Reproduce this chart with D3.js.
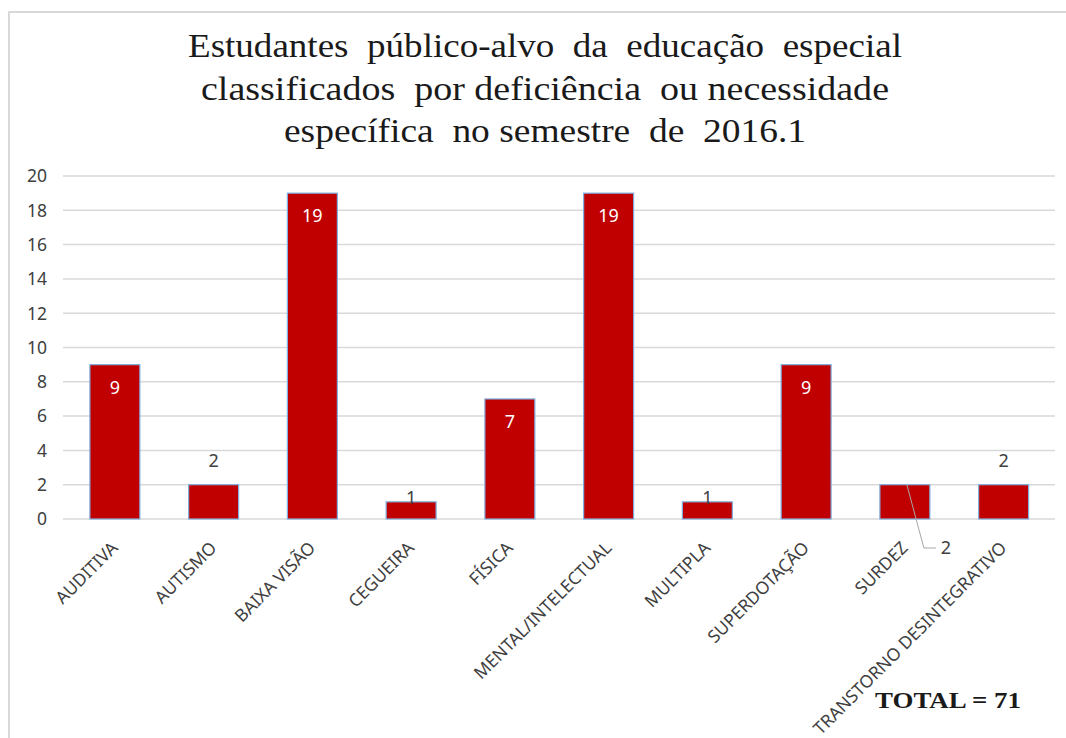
<!DOCTYPE html>
<html>
<head>
<meta charset="utf-8">
<script src="https://cdn.jsdelivr.net/npm/d3@7"></script>
<style>
  html, body { margin: 0; padding: 0; background: #fff; }
  svg { display: block; }
</style>
</head>
<body>
<svg id="chart"></svg>
<script>
// chart - students of special education by disability type, 2016.1

const CATEGORIES = ["AUDITIVA","AUTISMO","BAIXA VISÃO","CEGUEIRA","FÍSICA",
                    "MENTAL/INTELECTUAL","MULTIPLA","SUPERDOTAÇÃO","SURDEZ","TRANSTORNO DESINTEGRATIVO"];
const VALUES     = [9, 2, 19, 1, 7, 19, 1, 9, 2, 2];
// where Excel put each data label
const LABEL_POS  = ["inside","above","inside","top","inside","inside","top","inside","callout","above"];
const Y_TICKS    = [0, 2, 4, 6, 8, 10, 12, 14, 16, 18, 20];
const TITLE_LINES = [
  "Estudantes  público-alvo  da  educação  especial",
  "classificados  por deficiência  ou necessidade",
  "específica  no semestre  de  2016.1"
];
const TOTAL_TEXT = "TOTAL = 71";

const W = 1066, H = 738;
const SANS  = "'Noto Sans', 'Open Sans', sans-serif";
const SERIF = "'Liberation Serif', 'DejaVu Serif', serif";

const svg = d3.select("#chart").attr("width", W).attr("height", H);

// ── Frame ─────────────────────────────────────────────────────
svg.append("rect")
  .attr("x", 9).attr("y", 12).attr("width", W + 10).attr("height", H + 10)
  .attr("fill", "none").attr("stroke", "#d9d9d9").attr("stroke-width", 2);

// ── Title ─────────────────────────────────────────────────────
// the source font runs wider than Liberation Serif, so stretch each line to its width
const TITLE_W = [714, 688, 522];
TITLE_LINES.forEach((t, i) => {
  svg.append("text")
    .attr("x", 545).attr("y", 57 + i * 42.5)
    .attr("text-anchor", "middle")
    .attr("font-family", SERIF).attr("font-size", "33px")
    .attr("fill", "#1a1a1a")
    .attr("textLength", TITLE_W[i]).attr("lengthAdjust", "spacingAndGlyphs")
    .style("white-space", "pre")
    .text(t);
});

// ── Scales ────────────────────────────────────────────────────
const xs = d3.scaleBand().domain(CATEGORIES).range([65.5, 1053]).paddingInner(0.494).paddingOuter(0.247);
const ys = d3.scaleLinear().domain([0, 20]).range([519, 176]);

// ── Grid + y labels ───────────────────────────────────────────
Y_TICKS.forEach(t => {
  svg.append("line")
    .attr("x1", 63).attr("x2", 1055)
    .attr("y1", ys(t)).attr("y2", ys(t))
    .attr("stroke", "#d9d9d9").attr("stroke-width", 1.5);
  svg.append("text")
    .attr("x", 47).attr("y", ys(t)).attr("dy", "0.36em")
    .attr("text-anchor", "end")
    .attr("font-family", SANS).attr("font-size", "17.5px")
    .attr("fill", "#404040")
    .text(t);
});

// ── Bars ──────────────────────────────────────────────────────
const bars = CATEGORIES.map((c, i) => ({ cat: c, v: VALUES[i], pos: LABEL_POS[i] }));

svg.selectAll(".bar").data(bars).join("rect")
  .attr("class", "bar")
  .attr("x", d => xs(d.cat))
  .attr("y", d => ys(d.v))
  .attr("width", xs.bandwidth())
  .attr("height", d => ys(0) - ys(d.v))
  .attr("fill", "#c00000")
  .attr("stroke", "#7fb0e0").attr("stroke-width", 1.2);

// ── Category labels (rotated) ─────────────────────────────────
svg.selectAll(".xlab").data(bars).join("text")
  .attr("class", "xlab")
  .attr("transform", d => `translate(${xs(d.cat) + xs.bandwidth() / 2 + 4},${ys(0) + 30}) rotate(-45)`)
  .attr("text-anchor", "end")
  .attr("font-family", SANS).attr("font-size", "17.5px")
  .attr("fill", "#404040")
  .text(d => d.cat);

// ── Data labels ───────────────────────────────────────────────
bars.forEach(d => {
  const cx = xs(d.cat) + xs.bandwidth() / 2;
  const top = ys(d.v);
  const t = svg.append("text")
    .attr("text-anchor", "middle")
    .attr("font-family", SANS).attr("font-size", "18px")
    .text(d.v);
  if (d.pos === "inside") {
    t.attr("x", cx).attr("y", top + 29).attr("fill", "#ffffff");
  } else if (d.pos === "above") {
    t.attr("x", cx).attr("y", top - 18).attr("fill", "#404040");
  } else if (d.pos === "top") {
    t.attr("x", cx).attr("y", top + 2).attr("fill", "#404040");
  } else if (d.pos === "callout") {
    // leader line from the bar down to the label below the axis
    const lx = cx + 19, ly = ys(0) + 29;
    svg.append("polyline")
      .attr("points", `${cx + 2},${top} ${lx},${ly} ${lx + 12},${ly}`)
      .attr("fill", "none").attr("stroke", "#a6a6a6").attr("stroke-width", 1);
    t.attr("x", lx + 22).attr("y", ly).attr("dy", "0.36em").attr("fill", "#404040");
  }
});

// ── Total note ────────────────────────────────────────────────
svg.append("text")
  .attr("x", 1021).attr("y", 708)
  .attr("text-anchor", "end")
  .attr("font-family", SERIF).attr("font-size", "23px").attr("font-weight", "bold")
  .attr("fill", "#1a1a1a")
  .attr("textLength", 146).attr("lengthAdjust", "spacingAndGlyphs")
  .style("white-space", "pre")
  .text(TOTAL_TEXT);
</script>
</body>
</html>
